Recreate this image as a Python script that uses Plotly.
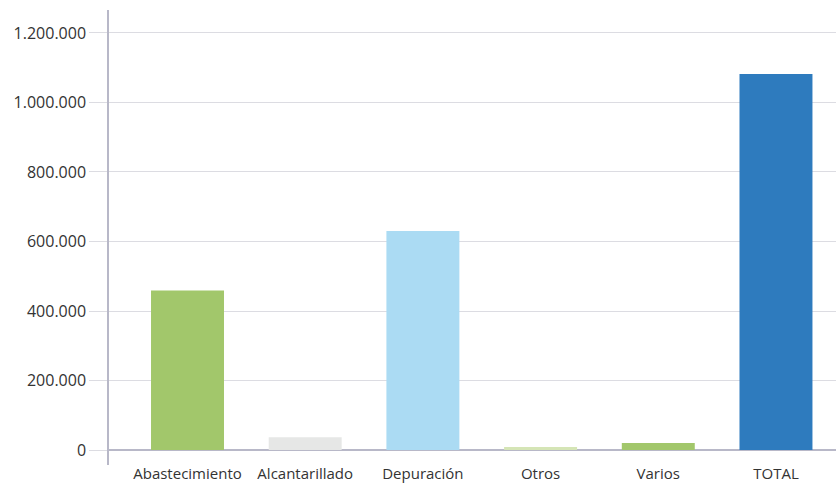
import plotly.graph_objects as go

categories = ["Abastecimiento", "Alcantarillado", "Depuración", "Otros", "Varios", "TOTAL"]
values = [459000, 37000, 630000, 9000, 20000, 1082000]
colors = ["#A2C76B", "#E6E7E6", "#ABDBF3", "#D5E5B6", "#A2C76B", "#2E7BBE"]
y_ticks = [0, 200000, 400000, 600000, 800000, 1000000, 1200000]

fig = go.Figure(go.Bar(
    x=list(range(len(categories))), y=values,
    marker=dict(color=colors, line=dict(width=0)),
    width=0.62,
))

fig.update_layout(
    width=836, height=484,
    margin=dict(l=109, r=0, t=10, b=19),
    plot_bgcolor="white", paper_bgcolor="white",
    separators=",.",
    showlegend=False,
    font=dict(family="Open Sans", size=15, color="#333333"),
)
fig.update_xaxes(
    tickmode="array", tickvals=list(range(len(categories))), ticktext=categories,
    range=[-0.667, 5.51], showgrid=False, showline=False, zeroline=False,
    ticks="", ticklabelstandoff=-2,
    tickfont=dict(size=15, color="#333333"), automargin=False,
)
fig.update_yaxes(
    range=[-43000, 1266000], tickvals=y_ticks, tickformat=",d",
    showgrid=True, gridcolor="#DCDCE2", gridwidth=1,
    zeroline=True, zerolinecolor="#B8B8C8", zerolinewidth=1.5,
    showline=True, linecolor="#B8B8C8", linewidth=1.5,
    ticks="outside", ticklen=18, tickcolor="#DCDCE2",
    tickfont=dict(size=16, color="#333333"), automargin=False,
)

fig.write_html("out.html", config={"displayModeBar": False},
               post_script="document.body.style.margin='0';document.body.style.overflow='hidden';")
